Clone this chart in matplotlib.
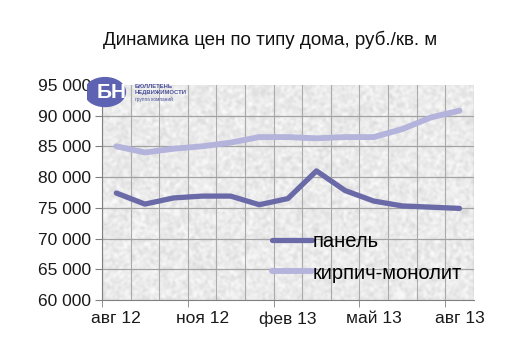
import matplotlib
matplotlib.use("Agg")
import matplotlib.pyplot as plt
import numpy as np
from matplotlib.patches import Circle

plt.rcParams['font.family'] = ['Liberation Sans', 'DejaVu Sans']

months = ["авг 12", "сен 12", "окт 12", "ноя 12", "дек 12", "янв 13", "фев 13",
          "мар 13", "апр 13", "май 13", "июн 13", "июл 13", "авг 13"]
panel = [77400, 75600, 76600, 76900, 76900, 75500, 76500, 81000, 77800, 76100, 75300, 75100, 74900]
brick = [85000, 84000, 84600, 85000, 85600, 86500, 86500, 86300, 86500, 86500, 87800, 89700, 90800]
yticks = [60000, 65000, 70000, 75000, 80000, 85000, 90000, 95000]


def fmt(v):
    return f"{v:,}".replace(",", " ")


def granite(h, w, seed=3):
    # just a grey speckle for the plot background
    rng = np.random.default_rng(seed)
    a = rng.random((h, w))
    k = np.array([0.25, 0.5, 0.25])
    a = np.apply_along_axis(lambda r: np.convolve(r, k, mode="same"), 1, a)
    a = np.apply_along_axis(lambda c: np.convolve(c, k, mode="same"), 0, a)
    a = (a - a.min()) / (a.max() - a.min())
    g = 0.84 + 0.16 * a
    return np.dstack([g, g, g])


fig = plt.figure(figsize=(5.1, 3.61), dpi=100)
ax = fig.add_axes([0.2, 0.169, 0.729, 0.596])

x = np.arange(len(months))
ax.imshow(granite(150, 260), extent=(-0.5, len(months) - 0.5, 60000, 95000),
          aspect="auto", zorder=0, interpolation="bilinear")

ax.set_xlim(-0.5, len(months) - 0.5)
ax.set_ylim(60000, 95000)

for b in np.arange(-0.5, len(months), 1):
    ax.axvline(b, color="#ababab", lw=0.8, zorder=1)
for v in yticks[1:-1]:
    ax.axhline(v, color="#a3a3a3", lw=0.9, zorder=1)

ax.plot(x, panel, color="#6a6aa8", lw=3.8, solid_capstyle="round", label="панель", zorder=3)
ax.plot(x, brick, color="#b3b3dc", lw=4.2, solid_capstyle="round", label="кирпич-монолит", zorder=3)

ax.set_yticks(yticks)
ax.set_yticklabels([fmt(v) for v in yticks], fontsize=12.5, color="#1a1a1a")
ax.set_xticks(x[::3])
ax.set_xticklabels(months[::3], fontsize=12.5, color="#1a1a1a")
ax.set_xticks(np.arange(-0.5, len(months), 3), minor=True)
ax.tick_params(axis="x", which="major", length=0, pad=8)
ax.tick_params(axis="x", which="minor", length=5, color="#808080")
ax.tick_params(axis="y", length=5, color="#808080", pad=3)

for s in ["top", "right"]:
    ax.spines[s].set_visible(False)
for s in ["left", "bottom"]:
    ax.spines[s].set_color("#808080")

ax.legend(loc="lower right", bbox_to_anchor=(1.0, 0.025), frameon=False, fontsize=14.5,
          handlelength=2.0, handletextpad=0.0, labelspacing=0.6, borderaxespad=0.2)

fig.text(0.53, 0.89, "Динамика цен по типу дома, руб./кв. м", ha="center", va="center",
         fontsize=13.5, color="#111111")

# logo
lax = fig.add_axes([0.17, 0.69, 0.24, 0.11])
lax.set_xlim(0, 24)
lax.set_ylim(0, 11)
lax.axis("off")
lax.add_patch(Circle((3.6, 5.5), 4.0, color="#5d62b3", zorder=1))
lax.text(4.8, 5.5, "БН", fontsize=15, fontweight="bold", color="white", ha="center", va="center",
         zorder=2)
lax.text(9.4, 7.0, "БЮЛЛЕТЕНЬ", fontsize=4.2, fontweight="bold", color="#4a4f9a", va="center")
lax.text(9.4, 5.4, "НЕДВИЖИМОСТИ", fontsize=4.2, fontweight="bold", color="#4a4f9a", va="center")
lax.text(9.4, 3.4, "группа компаний", fontsize=3.4, color="#4a4f9a", va="center")

fig.savefig("out.png", dpi=100)
